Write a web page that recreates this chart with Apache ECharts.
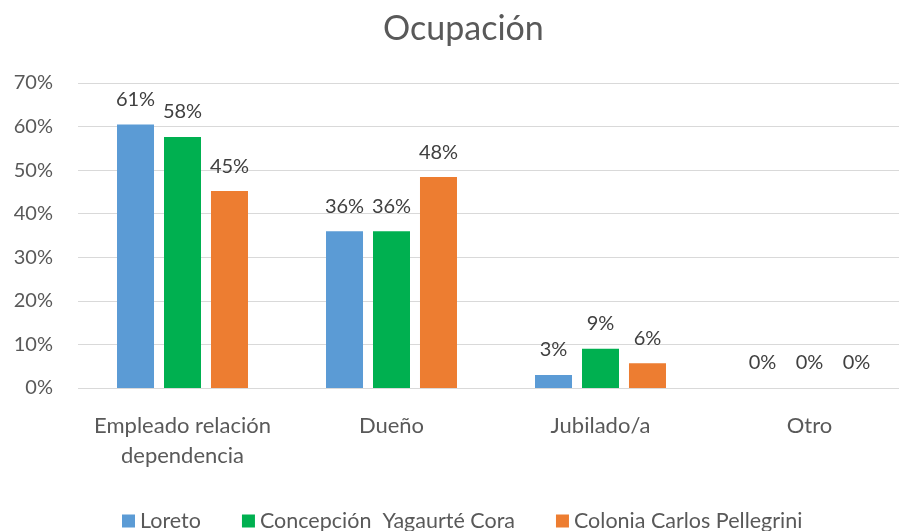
<!DOCTYPE html>
<html>
<head>
<meta charset="utf-8">
<script src="https://cdn.jsdelivr.net/npm/echarts@6/dist/echarts.min.js"></script>
<style>
    html, body { margin: 0; padding: 0; background: #fff; }
    #chart { width: 899px; height: 531px; }
</style>
</head>
<body>
<div id="chart"></div>
<script>
var categories = ['Empleado relación\ndependencia', 'Dueño', 'Jubilado/a', 'Otro']
var loreto = [60.5, 36.0, 3.0, 0]
var concepcion = [57.6, 36.0, 9.0, 0]
var colonia = [45.2, 48.4, 5.7, 0]
var yTicks = [0, 10, 20, 30, 40, 50, 60, 70]

var font = 'Lato'

function barSeries(name, data, color) {
    return {
        name: name,
        type: 'bar',
        data: data,
        barWidth: 37,
        barGap: '27%',
        itemStyle: {
            color: color
        },
        label: {
            show: true,
            position: 'top',
            distance: 15,
            fontFamily: font,
            fontSize: 20,
            color: '#404040',
            formatter: function (p) {
                return Math.round(p.value) + '%'
            }
        }
    }
}

var chart = echarts.init(document.getElementById('chart'))
var option = {
    animation: false,
    title: {
        text: 'Ocupación',
        left: 378,
        top: 7,
        textStyle: {
            fontFamily: font,
            fontSize: 34,
            fontWeight: 'normal',
            color: '#595959'
        }
    },
    legend: {
        left: 122,
        top: 510,
        padding: 0,
        itemWidth: 13,
        itemHeight: 13,
        itemGap: 41,
        icon: 'rect',
        textStyle: {
            fontFamily: font,
            fontSize: 21.5,
            color: '#595959'
        },
        data: ['Loreto', 'Concepción  Yagaurté Cora', 'Colonia Carlos Pellegrini']
    },
    grid: {
        left: 78,
        top: 83,
        bottom: 143,
        width: 836,
        outerBoundsMode: 'none'
    },
    xAxis: {
        type: 'category',
        data: categories,
        axisLine: {show: false},
        axisTick: {show: false},
        axisLabel: {
            interval: 0,
            margin: 23,
            fontFamily: font,
            fontSize: 22,
            lineHeight: 30,
            color: '#595959'
        }
    },
    yAxis: {
        type: 'value',
        min: 0,
        max: 70,
        interval: 10,
        axisLine: {show: false},
        axisTick: {show: false},
        splitLine: {
            lineStyle: {color: '#d9d9d9', width: 1}
        },
        axisLabel: {
            margin: 25,
            fontFamily: font,
            fontSize: 20,
            color: '#595959',
            formatter: function (v) {
                return yTicks.indexOf(v) >= 0 ? v + '%' : ''
            }
        }
    },
    series: [
        barSeries('Loreto', loreto, '#5b9bd5'),
        barSeries('Concepción  Yagaurté Cora', concepcion, '#00b050'),
        barSeries('Colonia Carlos Pellegrini', colonia, '#ed7d31')
    ]
}
chart.setOption(option)
</script>
</body>
</html>
